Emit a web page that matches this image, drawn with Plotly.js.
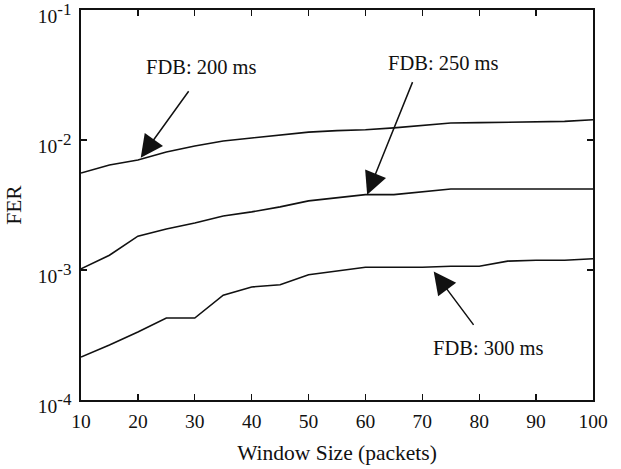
<!DOCTYPE html>
<html>
<head>
<meta charset="utf-8">
<script src="https://cdn.plot.ly/plotly-3.0.1.min.js"></script>
<style>html,body{margin:0;padding:0;background:#fff;}#chart{width:621px;height:469px;}</style>
</head>
<body>
<div id="chart"></div>
<script>
const windowSize = [10,15,20,25,30,35,40,45,50,55,60,65,70,75,80,85,90,95,100];
const fer200 = [5.57e-3,6.43e-3,7.02e-3,8.09e-3,8.99e-3,9.83e-3,1.036e-2,1.09e-2,1.15e-2,1.18e-2,1.20e-2,1.24e-2,1.29e-2,1.35e-2,1.36e-2,1.37e-2,1.38e-2,1.39e-2,1.43e-2];
const fer250 = [1.02e-3,1.30e-3,1.82e-3,2.07e-3,2.30e-3,2.60e-3,2.80e-3,3.06e-3,3.40e-3,3.60e-3,3.80e-3,3.80e-3,4.00e-3,4.20e-3,4.20e-3,4.20e-3,4.20e-3,4.20e-3,4.20e-3];
const fer300 = [2.14e-4,2.65e-4,3.33e-4,4.27e-4,4.27e-4,6.4e-4,7.4e-4,7.7e-4,9.2e-4,9.8e-4,1.05e-3,1.05e-3,1.05e-3,1.07e-3,1.07e-3,1.17e-3,1.19e-3,1.19e-3,1.22e-3];
const xTicks = [10,20,30,40,50,60,70,80,90,100];
const yTickVals = [1e-4,1e-3,1e-2,1e-1];
const yTickExp = ['-4','-3','-2','-1'];
const labels = ['FDB: 200 ms','FDB: 250 ms','FDB: 300 ms'];

const font = {family: 'Liberation Serif, Times New Roman, serif', color: '#111', size: 20.5};
const tickFont = Object.assign({}, font, {size: 19.5});
const titleFont = Object.assign({}, font, {size: 21.5});
const yTickText = yTickExp.map(e => '10<sup><span style="font-size:17px">' + e + '</span></sup>');
const line = {color: '#111', width: 1.6};
const traces = [fer200, fer250, fer300].map((y, i) => ({
  x: windowSize, y: y, type: 'scatter', mode: 'lines', line: line, name: labels[i], showlegend: false
}));

const arrowStyle = {showarrow: true, arrowhead: 2, arrowsize: 3.0, arrowwidth: 1.5, arrowcolor: '#111', text: '', xref: 'x', yref: 'y'};
const annotations = [
  Object.assign({}, arrowStyle, {x: 20.5, y: Math.log10(7.3e-3), ax: 49, ay: -68}),
  Object.assign({}, arrowStyle, {x: 60.3, y: Math.log10(3.8e-3), ax: 46, ay: -114}),
  Object.assign({}, arrowStyle, {x: 72.0, y: Math.log10(9.75e-4), ax: 41, ay: 55}),
  {x: 31.2, y: -1.438, xref: 'x', yref: 'y', text: labels[0], showarrow: false, font: font},
  {x: 73.8, y: -1.408, xref: 'x', yref: 'y', text: labels[1], showarrow: false, font: font},
  {x: 81.6, y: -3.6, xref: 'x', yref: 'y', text: labels[2], showarrow: false, font: font}
];

const axisCommon = {
  showline: true, linecolor: '#111', linewidth: 1.6, mirror: 'ticks',
  ticks: 'inside', ticklen: 6, tickwidth: 1.4, tickcolor: '#111',
  showgrid: false, zeroline: false, tickfont: tickFont, ticklabeloverflow: 'allow'
};

const layout = {
  width: 621, height: 469,
  margin: {l: 81, r: 28, t: 10, b: 69},
  paper_bgcolor: '#fff', plot_bgcolor: '#fff',
  font: font,
  xaxis: Object.assign({}, axisCommon, {
    range: [10, 100], tickvals: xTicks, ticklabelstandoff: 3,
    title: {text: 'Window Size (packets)', font: titleFont, standoff: 14}
  }),
  yaxis: Object.assign({}, axisCommon, {
    type: 'log', range: [-4.0001, -0.9999], tickvals: yTickVals, ticktext: yTickText,
    ticklabelstandoff: 4, ticklabelshift: 6,
    title: {text: 'FER', font: titleFont, standoff: 10}
  }),
  annotations: annotations
};

Plotly.newPlot('chart', traces, layout, {staticPlot: true, displayModeBar: false});
</script>
</body>
</html>
